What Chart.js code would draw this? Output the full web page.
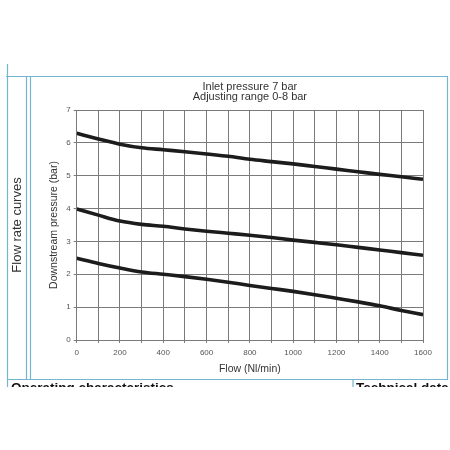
<!DOCTYPE html>
<html>
<head>
<meta charset="utf-8">
<script src="https://cdn.jsdelivr.net/npm/chart.js@4"></script>
<style>
  body { margin: 0; background: #fff; }
  canvas { display: block; }
</style>
</head>
<body>
<canvas id="chart" width="450" height="450"></canvas>
<script>
// flow in Nl/min, pressures in bar
const flow = [0, 100, 200, 300, 400, 500, 600, 700, 800, 900, 1000, 1100, 1200, 1300, 1400, 1500, 1600];
const upperCurve = [6.29, 6.12, 5.96, 5.85, 5.79, 5.73, 5.66, 5.59, 5.50, 5.43, 5.36, 5.28, 5.20, 5.12, 5.04, 4.97, 4.89];
const middleCurve = [3.99, 3.80, 3.62, 3.52, 3.46, 3.38, 3.31, 3.25, 3.19, 3.12, 3.04, 2.97, 2.90, 2.82, 2.74, 2.66, 2.58];
const lowerCurve = [2.49, 2.33, 2.19, 2.07, 2.00, 1.93, 1.85, 1.76, 1.66, 1.57, 1.48, 1.38, 1.27, 1.16, 1.04, 0.90, 0.77];
const titleLines = ['Inlet pressure 7 bar', 'Adjusting range 0-8 bar'];

const FONT = '"Liberation Sans", Arial, sans-serif';
const frameBlue = '#74b6cf';

const toPoints = (vals) => vals.map((v, i) => ({ x: flow[i], y: v }));

const curveStyle = {
  borderColor: '#1c1c1c',
  borderWidth: 3.6,
  pointRadius: 0,
  fill: false,
  cubicInterpolationMode: 'monotone'
};

// draws the blue page frame, side label and header text around the plot
const pageFrame = {
  id: 'pageFrame',
  afterDraw(chart) {
    const ctx = chart.ctx;
    const area = chart.chartArea;
    ctx.save();
    ctx.strokeStyle = frameBlue;
    ctx.lineWidth = 1.2;
    ctx.beginPath();
    ctx.moveTo(6, 76.5); ctx.lineTo(448, 76.5);
    ctx.moveTo(7.5, 64); ctx.lineTo(7.5, 390);
    ctx.moveTo(26.5, 76.5); ctx.lineTo(26.5, 379);
    ctx.moveTo(30.5, 76.5); ctx.lineTo(30.5, 379);
    ctx.moveTo(447.5, 76.5); ctx.lineTo(447.5, 379);
    ctx.moveTo(7, 379.5); ctx.lineTo(448, 379.5);
    ctx.moveTo(353, 379.5); ctx.lineTo(353, 390);
    ctx.stroke();

    ctx.fillStyle = '#333';
    ctx.textAlign = 'center';
    ctx.textBaseline = 'middle';
    ctx.font = '11px ' + FONT;
    const cx = (area.left + area.right) / 2;
    ctx.fillText(titleLines[0], cx, 86.5);
    ctx.fillText(titleLines[1], cx, 97);

    ctx.save();
    ctx.translate(17, 225);
    ctx.rotate(-Math.PI / 2);
    ctx.font = '13px ' + FONT;
    ctx.fillText('Flow rate curves', 0, 0);
    ctx.restore();

    // section headings below, cut off by the page edge
    ctx.fillStyle = '#111';
    ctx.textAlign = 'left';
    ctx.textBaseline = 'top';
    ctx.font = 'bold 13.5px ' + FONT;
    ctx.fillText('Operating characteristics', 11, 382);
    ctx.fillText('Technical data', 356, 382);
    ctx.fillStyle = '#fff';
    ctx.fillRect(0, 387, 450, 63);
    ctx.restore();
  }
};

new Chart(document.getElementById('chart'), {
  type: 'line',
  data: {
    datasets: [
      Object.assign({ label: 'upper', data: toPoints(upperCurve) }, curveStyle),
      Object.assign({ label: 'middle', data: toPoints(middleCurve) }, curveStyle),
      Object.assign({ label: 'lower', data: toPoints(lowerCurve) }, curveStyle)
    ]
  },
  options: {
    responsive: false,
    animation: false,
    devicePixelRatio: 1,
    layout: { padding: { left: 38, right: 27, top: 110, bottom: 70 } },
    plugins: {
      legend: { display: false },
      tooltip: { enabled: false }
    },
    scales: {
      x: {
        type: 'linear',
        min: 0,
        max: 1600,
        afterFit: (s) => { s.height = 40; },
        ticks: {
          stepSize: 100,
          autoSkip: false,
          maxRotation: 0,
          padding: 5,
          color: '#555',
          font: { family: FONT, size: 8 },
          callback: (v) => (v % 200 === 0 ? v : '')
        },
        grid: { color: '#7a7a7a', lineWidth: 1, tickLength: 3 },
        border: { color: '#7a7a7a' },
        title: {
          display: true,
          text: 'Flow (Nl/min)',
          color: '#333',
          font: { family: FONT, size: 10.5 },
          padding: { top: 0, bottom: 5 }
        }
      },
      y: {
        min: 0,
        max: 7,
        afterFit: (s) => { s.width = 38.7; },
        ticks: {
          stepSize: 1,
          padding: 3,
          color: '#555',
          font: { family: FONT, size: 8 }
        },
        grid: { color: '#7a7a7a', lineWidth: 1, tickLength: 3 },
        border: { color: '#7a7a7a' },
        title: {
          display: true,
          text: 'Downstream pressure (bar)',
          color: '#333',
          font: { family: FONT, size: 10.5 },
          padding: { top: 10, bottom: 0 }
        }
      }
    }
  },
  plugins: [pageFrame]
});
</script>
</body>
</html>
